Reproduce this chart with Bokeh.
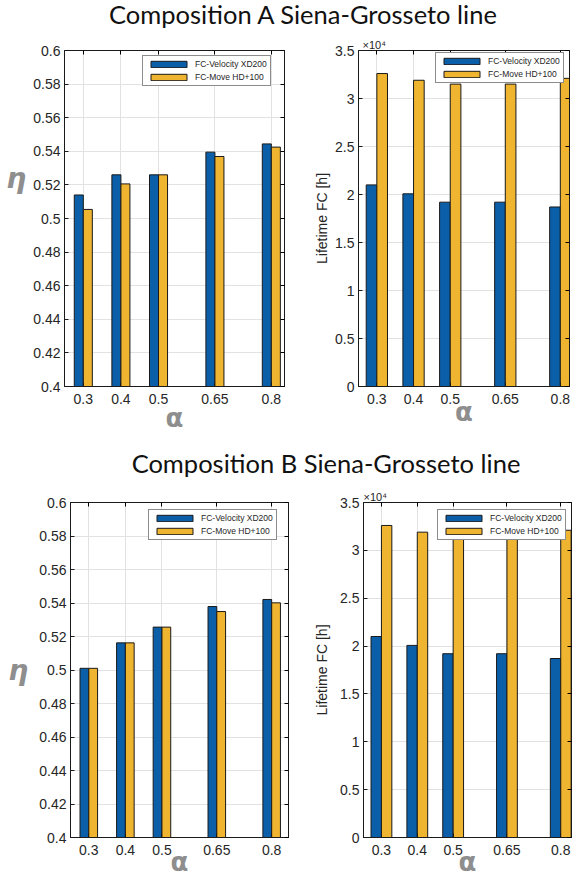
from bokeh.plotting import figure
from bokeh.models import Range1d, LinearAxis, FixedTicker, Legend, LegendItem, Div, ColumnDataSource, Title
from bokeh.layouts import column, row
from bokeh.transform import dodge
from bokeh.embed import file_html
from bokeh.resources import INLINE

# ---------------- data ----------------
alpha = [0.3, 0.4, 0.5, 0.65, 0.8]
alpha_labels = ["0.3", "0.4", "0.5", "0.65", "0.8"]
series_names = ["FC-Velocity XD200", "FC-Move HD+100"]

eta_A_velocity = [0.514, 0.526, 0.526, 0.5395, 0.5444]
eta_A_move = [0.5054, 0.5206, 0.526, 0.5369, 0.5425]
eta_B_velocity = [0.501, 0.5162, 0.5256, 0.5379, 0.5421]
eta_B_move = [0.501, 0.5162, 0.5256, 0.5349, 0.5401]

life_velocity = [21000, 20070, 19200, 19200, 18700]
life_move = [32600, 31900, 31500, 31500, 32100]

eta_ticks = [0.4, 0.42, 0.44, 0.46, 0.48, 0.5, 0.52, 0.54, 0.56, 0.58, 0.6]
eta_tick_labels = ["0.4", "0.42", "0.44", "0.46", "0.48", "0.5", "0.52", "0.54", "0.56", "0.58", "0.6"]
life_ticks = [0, 5000, 10000, 15000, 20000, 25000, 30000, 35000]
life_tick_labels = ["0", "0.5", "1", "1.5", "2", "2.5", "3", "3.5"]

titles = ["Composition A Siena-Grosseto line", "Composition B Siena-Grosseto line"]

BLUE = "#0a5fa8"
YELLOW = "#efb430"
EDGE = "#1a1a1a"
GRAY = "#8e8e8e"
TXT = "#262626"
TICK_FONT = "Liberation Sans"


def make_panel(yvals_a, yvals_b, yticks, ylabels, yrange, xrange, width, height,
               bl, br, bt, bb, barw, legend_pos, ylabel=None, ylabel_standoff=0,
               eta=None, eta_standoff=3, alpha_standoff=0, xlabel_standoff=5, mult_offset=None):
    p = figure(width=width, height=height, output_backend="svg", toolbar_location=None,
               x_range=Range1d(*xrange), y_range=Range1d(*yrange),
               min_border_left=bl, min_border_right=br, min_border_top=bt, min_border_bottom=bb)
    p.background_fill_color = "white"
    p.border_fill_color = "white"
    p.outline_line_color = EDGE
    p.outline_line_width = 1

    src = ColumnDataSource(dict(x=alpha, a=yvals_a, b=yvals_b))
    r1 = p.vbar(x=dodge("x", -barw / 2), top="a", bottom=0, width=barw, source=src,
                fill_color=BLUE, line_color=EDGE, line_width=1)
    r2 = p.vbar(x=dodge("x", barw / 2), top="b", bottom=0, width=barw, source=src,
                fill_color=YELLOW, line_color=EDGE, line_width=1)

    xt = FixedTicker(ticks=alpha)
    yt = FixedTicker(ticks=yticks)
    xover = {v: s for v, s in zip(alpha, alpha_labels)}
    yover = {v: s for v, s in zip(yticks, ylabels)}

    xa = p.xaxis[0]
    xa.ticker = xt
    xa.major_label_overrides = xover
    ya = p.yaxis[0]
    ya.ticker = yt
    ya.major_label_overrides = yover
    for ax in (xa, ya):
        ax.major_tick_in = 4
        ax.major_tick_out = 0
        ax.minor_tick_line_color = None
        ax.axis_line_color = EDGE
        ax.major_tick_line_color = EDGE
        ax.major_label_text_font = TICK_FONT
        ax.major_label_text_font_size = "14px"
        ax.major_label_text_color = TXT
    xa.major_label_standoff = xlabel_standoff
    ya.major_label_standoff = 4

    # alpha symbol below the x axis
    xa.axis_label = "α"
    xa.axis_label_text_font = "DejaVu Sans"
    xa.axis_label_text_font_style = "bold"
    xa.axis_label_text_font_size = "26px"
    xa.axis_label_text_color = GRAY
    xa.axis_label_standoff = alpha_standoff

    if ylabel:
        ya.axis_label = ylabel
        ya.axis_label_text_font = TICK_FONT
        ya.axis_label_text_font_size = "14px"
        ya.axis_label_text_font_style = "normal"
        ya.axis_label_text_color = TXT
        ya.axis_label_standoff = ylabel_standoff
    if eta:
        ya.axis_label = eta
        ya.axis_label_orientation = "horizontal"
        ya.axis_label_text_font = "DejaVu Sans"
        ya.axis_label_text_font_style = "bold italic"
        ya.axis_label_text_font_size = "28px"
        ya.axis_label_text_color = GRAY
        ya.axis_label_standoff = eta_standoff

    top_ax = LinearAxis(ticker=xt, major_label_overrides={v: "" for v in alpha}, major_tick_in=4,
                        major_tick_out=0, minor_tick_line_color=None, axis_line_color=EDGE,
                        major_label_standoff=0)
    right_ax = LinearAxis(ticker=yt, major_label_overrides={v: "" for v in yticks}, major_tick_in=4,
                          major_tick_out=0, minor_tick_line_color=None, axis_line_color=EDGE,
                          major_label_standoff=0)
    p.add_layout(top_ax, "above")
    p.add_layout(right_ax, "right")

    if mult_offset is not None:
        p.add_layout(Title(text="×10⁴", align="left", offset=mult_offset, standoff=0,
                           text_font=TICK_FONT, text_font_size="11px", text_font_style="normal",
                           text_color=TXT), "above")

    p.xgrid.ticker = xt
    p.ygrid.ticker = yt
    p.xgrid.grid_line_color = "#e2e2e2"
    p.ygrid.grid_line_color = "#e2e2e2"

    leg = Legend(items=[LegendItem(label=series_names[0], renderers=[r1]),
                        LegendItem(label=series_names[1], renderers=[r2])],
                 location=legend_pos, orientation="vertical",
                 glyph_width=45, glyph_height=8, label_height=8, label_standoff=4,
                 spacing=3, padding=3, margin=0,
                 label_text_font=TICK_FONT, label_text_font_size="8.5px", label_text_color=TXT,
                 border_line_color=EDGE, border_line_width=1,
                 background_fill_color="white", background_fill_alpha=1.0)
    p.add_layout(leg, "center")
    return p


def title_div(text, h, shift_x, shift_y):
    html = (f'<span style="position:relative;left:{shift_x}px;top:{shift_y}px;">{text}</span>')
    return Div(text=html, width=582, height=h, margin=0,
               styles={"font-family": "Lato", "font-size": "25.5px", "color": "#111",
                       "text-align": "center", "line-height": f"{h}px", "white-space": "nowrap",
                       "width": "582px", "height": f"{h}px", "overflow": "visible"})


t1 = title_div(titles[0], 28, 12, 0)
p1 = make_panel(eta_A_velocity, eta_A_move, eta_ticks, eta_tick_labels, (0.4, 0.6), (0.25, 0.835),
                300, 410, 64, 16, 22, 52, 0.024, (78, 300), eta="η\n \n ", eta_standoff=4,
                alpha_standoff=-4, xlabel_standoff=7)
p2 = make_panel(life_velocity, life_move, life_ticks, life_tick_labels, (0, 35000), (0.25, 0.825),
                282, 410, 58, 13, 22, 52, 0.029, (77, 303), ylabel="Lifetime FC [h]",
                ylabel_standoff=2, mult_offset=4, alpha_standoff=-10, xlabel_standoff=7)

t2 = title_div(titles[1], 42, 35, 4)
p3 = make_panel(eta_B_velocity, eta_B_move, eta_ticks, eta_tick_labels, (0.4, 0.6), (0.25, 0.846),
                300, 400, 70, 12, 22, 43, 0.024, (78, 297), eta="η", eta_standoff=8,
                alpha_standoff=-11, xlabel_standoff=7)
p4 = make_panel(life_velocity, life_move, life_ticks, life_tick_labels, (0, 35000), (0.25, 0.83),
                282, 400, 63, 11, 22, 43, 0.029, (74, 297), ylabel="Lifetime FC [h]",
                ylabel_standoff=7, mult_offset=0, alpha_standoff=-11, xlabel_standoff=7)

layout = column(t1, row(p1, p2, spacing=0), t2, row(p3, p4, spacing=0), spacing=0)
open("out.html", "w").write(file_html(layout, INLINE))
